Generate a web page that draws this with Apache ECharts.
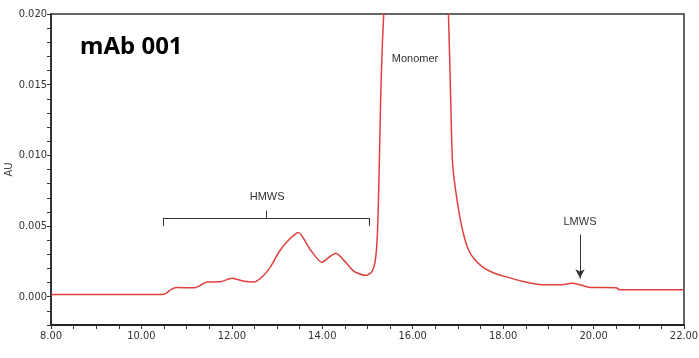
<!DOCTYPE html>
<html>
<head>
<meta charset="utf-8">
<script src="https://cdn.jsdelivr.net/npm/echarts@6/dist/echarts.min.js"></script>
<style>html,body{margin:0;padding:0;background:#fff;}#c{width:699px;height:358px;}</style>
</head>
<body>
<div id="c"></div>
<script>
// Retention time (min)
var times = [8.00, 10.45, 10.55, 10.65, 10.78, 11.18, 11.30, 11.45, 11.74, 12.00, 12.27, 12.50, 12.70, 12.85, 13.05, 13.25, 13.47, 13.72, 13.99, 14.15, 14.30, 14.50, 14.70, 14.97, 15.10, 15.17, 15.22, 15.26, 15.29, 15.33, 15.38, 15.45, 15.60, 16.00, 16.40, 16.65, 16.79, 16.84, 16.88, 16.95, 17.05, 17.15, 17.25, 17.38, 17.55, 17.78, 18.05, 18.45, 18.85, 19.30, 19.52, 19.72, 19.92, 20.50, 20.57, 22.00];
// Absorbance (AU)
var absorb = [0.00015, 0.00015, 0.00025, 0.0005, 0.00065, 0.00063, 0.0008, 0.00104, 0.00106, 0.0013, 0.0011, 0.00105, 0.0015, 0.0021, 0.0032, 0.0040, 0.00455, 0.0034, 0.00244, 0.0028, 0.00308, 0.0025, 0.0018, 0.0015, 0.0018, 0.0025, 0.0045, 0.0092, 0.0139, 0.018, 0.0215, 0.028, 0.038, 0.048, 0.042, 0.030, 0.0200, 0.0139, 0.0095, 0.0075, 0.0055, 0.0041, 0.0032, 0.0026, 0.0021, 0.0017, 0.00142, 0.00108, 0.00085, 0.00085, 0.00095, 0.00083, 0.00066, 0.00064, 0.0005, 0.0005];
// Annotations
var sampleTitle = 'mAb 001';
var peakLabels = [
  {name: 'Monomer', x: 16.05, y: 0.0168},
  {name: 'HMWS', x: 12.78, y: 0.00707},
  {name: 'LMWS', x: 19.70, y: 0.0053}
];
var hmwsRange = [10.48, 15.03];
var hmwsBracketY = [0.0050, 0.00558, 0.0061];
var hmwsCenter = 12.76;
var lmwsArrow = {x: 19.70, y0: 0.0044, y1: 0.0013};

var chart = echarts.init(document.getElementById('c'), null, {renderer: 'canvas'});
var labelFont = '"DejaVu Sans Condensed", "Liberation Sans Narrow", sans-serif';
var data = times.map(function (t, i) { return [t, absorb[i]]; });

var bracketLines = [
  [{coord: [hmwsRange[0], hmwsBracketY[0]]}, {coord: [hmwsRange[0], hmwsBracketY[1]]}],
  [{coord: [hmwsRange[0], hmwsBracketY[1]]}, {coord: [hmwsRange[1], hmwsBracketY[1]]}],
  [{coord: [hmwsRange[1], hmwsBracketY[1]]}, {coord: [hmwsRange[1], hmwsBracketY[0]]}],
  [{coord: [hmwsCenter, hmwsBracketY[1]]}, {coord: [hmwsCenter, hmwsBracketY[2]]}],
  [{coord: [lmwsArrow.x, lmwsArrow.y0], symbol: 'none'}, {coord: [lmwsArrow.x, lmwsArrow.y1], symbol: 'arrow', symbolSize: [7, 9]}]
];

chart.setOption({
  animation: false,
  backgroundColor: '#fff',
  title: {
    text: sampleTitle,
    left: 75, top: 30,
    textStyle: {fontFamily: '"Noto Sans", sans-serif', fontWeight: 'bold', fontSize: 24, color: '#000'}
  },
  grid: {left: 51, right: 15, top: 14, bottom: 33, outerBoundsMode: 'none', containLabel: false, show: true, borderColor: '#333', borderWidth: 1.5, backgroundColor: '#fff'},
  xAxis: {
    type: 'value', min: 8, max: 22, interval: 0.5,
    axisLine: {onZero: false, lineStyle: {color: '#222', width: 2}},
    axisTick: {show: true, length: 4, lineStyle: {color: '#333', width: 1}},
    axisLabel: {
      margin: 6, fontFamily: labelFont, fontSize: 11, color: '#333',
      formatter: function (v) { return Math.abs(v / 2 - Math.round(v / 2)) < 1e-6 ? v.toFixed(2) : ''; }
    },
    splitLine: {show: false}
  },
  yAxis: {
    type: 'value', min: -0.002, max: 0.020, interval: 0.001,
    name: 'AU', nameLocation: 'middle', nameGap: 36, nameRotate: 90, nameMoveOverlap: false,
    nameTextStyle: {fontFamily: labelFont, fontSize: 11, color: '#444'},
    axisLine: {show: true, onZero: false, lineStyle: {color: '#222', width: 1.5}},
    axisTick: {show: true, length: 4, lineStyle: {color: '#333', width: 1}},
    axisLabel: {
      margin: 4, fontFamily: labelFont, fontSize: 11, color: '#333',
      formatter: function (v) {
        var r = v / 0.005;
        return (v > -1e-9 && Math.abs(r - Math.round(r)) < 1e-6) ? (Math.abs(v) < 1e-9 ? 0 : v).toFixed(3) : '';
      }
    },
    splitLine: {show: false}
  },
  series: [{
    type: 'line',
    data: data,
    smooth: 0.25,
    showSymbol: false,
    symbol: 'none',
    clip: true,
    lineStyle: {color: '#e0403c', width: 1.5},
    markLine: {
      silent: true,
      symbol: ['none', 'none'],
      label: {show: false},
      lineStyle: {color: '#333', width: 1, type: 'solid'},
      data: bracketLines
    },
    markPoint: {
      silent: true,
      symbol: 'circle', symbolSize: 0,
      label: {show: true, position: 'inside', formatter: '{b}', fontFamily: '"Liberation Sans", Arial, sans-serif', fontSize: 11, color: '#333'},
      data: peakLabels.map(function (p) { return {name: p.name, coord: [p.x, p.y]}; })
    }
  }]
});
</script>
</body>
</html>
